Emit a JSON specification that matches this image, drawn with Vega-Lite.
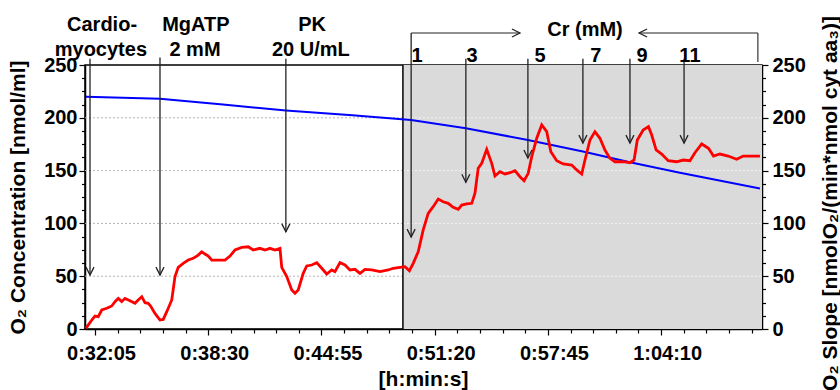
{
  "$schema": "https://vega.github.io/schema/vega-lite/v6.json",
  "width": 677,
  "height": 264,
  "autosize": {"type": "none"},
  "padding": {"left": 85, "top": 65, "right": 78, "bottom": 61},
  "background": "white",
  "config": {
    "view": {"stroke": "#000", "strokeWidth": 1.5},
    "font": "Liberation Sans",
    "axis": {
      "domainColor": "#000",
      "domainWidth": 1.5,
      "tickColor": "#000",
      "tickWidth": 1.2,
      "labelFont": "Liberation Sans",
      "labelFontSize": 20,
      "labelFontWeight": "bold",
      "labelColor": "#000",
      "titleFont": "Liberation Sans",
      "titleFontSize": 21,
      "titleFontWeight": "bold",
      "titleColor": "#000",
      "grid": false,
      "zindex": 1,
      "labelOverlap": false,
      "labelFlush": false
    }
  },
  "datasets": {
    "slope": [
      {"t": 1894, "v": 0.6}, {"t": 1914, "v": 8.5}, {"t": 1925, "v": 12.3}, {"t": 1936, "v": 11.7}, {"t": 1948, "v": 18}, {"t": 1965, "v": 19.6}, {"t": 1982, "v": 21.8}, {"t": 1993, "v": 25.9}, {"t": 2004, "v": 29}, {"t": 2016, "v": 25.9}, {"t": 2027, "v": 29}, {"t": 2044, "v": 26.8}, {"t": 2061, "v": 24.3}, {"t": 2072, "v": 27.5}, {"t": 2084, "v": 30.6}, {"t": 2095, "v": 24.9}, {"t": 2106, "v": 24.3}, {"t": 2114, "v": 21.8}, {"t": 2129, "v": 14.8}, {"t": 2146, "v": 8.5}, {"t": 2157, "v": 9.1}, {"t": 2169, "v": 16.4}, {"t": 2186, "v": 27.5}, {"t": 2197, "v": 49.6}, {"t": 2208, "v": 58.4}, {"t": 2225, "v": 62.2}, {"t": 2242, "v": 65.3}, {"t": 2259, "v": 66.9}, {"t": 2276, "v": 70}, {"t": 2288, "v": 73.2}, {"t": 2299, "v": 71}, {"t": 2310, "v": 69.1}, {"t": 2322, "v": 65.3}, {"t": 2344, "v": 65.3}, {"t": 2367, "v": 65.3}, {"t": 2384, "v": 69.1}, {"t": 2401, "v": 74.8}, {"t": 2424, "v": 77.3}, {"t": 2446, "v": 77.9}, {"t": 2463, "v": 74.8}, {"t": 2486, "v": 76.4}, {"t": 2503, "v": 74.8}, {"t": 2520, "v": 76.4}, {"t": 2537, "v": 74.8}, {"t": 2554, "v": 76.4}, {"t": 2560, "v": 58.4}, {"t": 2577, "v": 49.6}, {"t": 2594, "v": 37}, {"t": 2605, "v": 33.8}, {"t": 2616, "v": 37}, {"t": 2633, "v": 52.7}, {"t": 2645, "v": 59.7}, {"t": 2662, "v": 60.6}, {"t": 2679, "v": 62.8}, {"t": 2696, "v": 57.5}, {"t": 2713, "v": 52.1}, {"t": 2730, "v": 55.9}, {"t": 2741, "v": 54.3}, {"t": 2758, "v": 62.8}, {"t": 2775, "v": 60.6}, {"t": 2792, "v": 55.9}, {"t": 2809, "v": 56.5}, {"t": 2826, "v": 52.7}, {"t": 2843, "v": 56.5}, {"t": 2866, "v": 55.9}, {"t": 2894, "v": 54.3}, {"t": 2922, "v": 55.9}, {"t": 2939, "v": 57.5}, {"t": 2962, "v": 58.4}, {"t": 2979, "v": 59}, {"t": 2994, "v": 55.2}, {"t": 3007, "v": 62.2}, {"t": 3024, "v": 73.2}, {"t": 3041, "v": 93.8}, {"t": 3058, "v": 109.5}, {"t": 3075, "v": 115.8}, {"t": 3092, "v": 123.1}, {"t": 3109, "v": 120.5}, {"t": 3126, "v": 119}, {"t": 3143, "v": 115.2}, {"t": 3160, "v": 113.3}, {"t": 3172, "v": 117.4}, {"t": 3189, "v": 118.4}, {"t": 3206, "v": 119}, {"t": 3217, "v": 128.5}, {"t": 3228, "v": 152.2}, {"t": 3240, "v": 156.9}, {"t": 3257, "v": 170.1}, {"t": 3274, "v": 156.9}, {"t": 3285, "v": 144.9}, {"t": 3302, "v": 149}, {"t": 3319, "v": 146.8}, {"t": 3336, "v": 148}, {"t": 3353, "v": 149.9}, {"t": 3370, "v": 144.2}, {"t": 3384, "v": 140.4}, {"t": 3398, "v": 147.4}, {"t": 3410, "v": 163.2}, {"t": 3427, "v": 180.6}, {"t": 3444, "v": 193.2}, {"t": 3461, "v": 186.9}, {"t": 3475, "v": 167.9}, {"t": 3495, "v": 159.4}, {"t": 3517, "v": 156.3}, {"t": 3546, "v": 155.3}, {"t": 3563, "v": 150.6}, {"t": 3580, "v": 146.8}, {"t": 3591, "v": 160}, {"t": 3608, "v": 179}, {"t": 3625, "v": 186.9}, {"t": 3642, "v": 180.6}, {"t": 3659, "v": 169.5}, {"t": 3676, "v": 161.6}, {"t": 3693, "v": 158.4}, {"t": 3721, "v": 158.4}, {"t": 3744, "v": 157.5}, {"t": 3758, "v": 160}, {"t": 3769, "v": 179}, {"t": 3789, "v": 188.4}, {"t": 3807, "v": 191.6}, {"t": 3818, "v": 183.7}, {"t": 3833, "v": 169.5}, {"t": 3852, "v": 165.7}, {"t": 3874, "v": 159.4}, {"t": 3903, "v": 158.4}, {"t": 3925, "v": 160}, {"t": 3948, "v": 159.4}, {"t": 3965, "v": 166.9}, {"t": 3988, "v": 175.2}, {"t": 4011, "v": 171.1}, {"t": 4028, "v": 163.8}, {"t": 4050, "v": 165.7}, {"t": 4078, "v": 163.8}, {"t": 4107, "v": 160.7}, {"t": 4129, "v": 163.8}, {"t": 4186, "v": 163.8}
    ],
    "conc": [
      {"t": 1894, "v": 220}, {"t": 2146, "v": 218}, {"t": 2360, "v": 212.5}, {"t": 2574, "v": 207}, {"t": 2800, "v": 202.5}, {"t": 3000, "v": 198}, {"t": 3186, "v": 190}, {"t": 3397, "v": 179}, {"t": 3584, "v": 168}, {"t": 3744, "v": 158}, {"t": 3914, "v": 148}, {"t": 4186, "v": 133}
    ],
    "arrows": [
      {"t": 1908, "top": 256, "tip": 51},
      {"t": 2146, "top": 257, "tip": 51},
      {"t": 2574, "top": 256, "tip": 92},
      {"t": 3000, "top": 280.3, "tip": 87},
      {"t": 3186, "top": 256, "tip": 139},
      {"t": 3397, "top": 256, "tip": 162},
      {"t": 3584, "top": 256, "tip": 176},
      {"t": 3744, "top": 256, "tip": 176},
      {"t": 3928, "top": 256, "tip": 176}
    ],
    "heads": [
      {"t": 1908, "v": 51, "dir": "down"},
      {"t": 2146, "v": 51, "dir": "down"},
      {"t": 2574, "v": 92, "dir": "down"},
      {"t": 3000, "v": 87, "dir": "down"},
      {"t": 3186, "v": 139, "dir": "down"},
      {"t": 3397, "v": 162, "dir": "down"},
      {"t": 3584, "v": 176, "dir": "down"},
      {"t": 3744, "v": 176, "dir": "down"},
      {"t": 3928, "v": 176, "dir": "down"},
      {"t": 3370, "v": 280.3, "dir": "right"},
      {"t": 3775, "v": 280.3, "dir": "left"}
    ],
    "bracket": [
      {"t": 3000, "t2": 3370, "v": 280.3, "v2": 280.3},
      {"t": 3775, "t2": 4179, "v": 280.3, "v2": 280.3},
      {"t": 4179, "t2": 4179, "v": 280.3, "v2": 252.8}
    ],
    "labels": [
      {"t": 1949, "v": 288, "label": "Cardio-"},
      {"t": 1945, "v": 264.5, "label": "myocytes"},
      {"t": 2268, "v": 288, "label": "MgATP"},
      {"t": 2265, "v": 264.5, "label": "2 mM"},
      {"t": 2663, "v": 288, "label": "PK"},
      {"t": 2659, "v": 264.5, "label": "20 U/mL"},
      {"t": 3591, "v": 283, "label": "Cr (mM)"},
      {"t": 3020, "v": 258.5, "label": "1"},
      {"t": 3207, "v": 258.5, "label": "3"},
      {"t": 3438, "v": 258.5, "label": "5"},
      {"t": 3628, "v": 258.5, "label": "7"},
      {"t": 3785, "v": 258.5, "label": "9"},
      {"t": 3948, "v": 258.5, "label": "11"}
    ],
    "grid": [{"v": 50}, {"v": 100}, {"v": 150}, {"v": 200}],
    "region": [{"t0": 2972, "t1": 4193}]
  },
  "resolve": {"scale": {"y": "shared", "x": "shared"}, "axis": {"y": "independent", "x": "independent"}},
  "layer": [
    {
      "data": {"name": "region"},
      "mark": {"type": "rect", "fill": "#dadada"},
      "encoding": {
        "x": {
          "field": "t0", "type": "quantitative",
          "scale": {"domain": [1891, 4193], "nice": false, "zero": false},
          "axis": {
            "title": "[h:min:s]",
            "values": [1925, 2310, 2695, 3080, 3465, 3850],
            "labelExpr": "utcFormat(datum.value * 1000, '%-H:%M:%S')",
            "tickSize": 6,
            "labelOverlap": false,
            "labelFlush": false,
            "labelPadding": 8,
            "labelOffset": 6,
            "titleX": 338,
            "titleY": 50,
            "titleAlign": "center",
            "titleBaseline": "middle"
          }
        },
        "x2": {"field": "t1"},
        "y": {
          "datum": 0, "type": "quantitative",
          "scale": {"domain": [0, 250], "nice": false, "zero": true},
          "axis": {
            "orient": "left",
            "title": "O₂ Concentration [nmol/ml]",
            "values": [0, 12.5, 25, 37.5, 50, 62.5, 75, 87.5, 100, 112.5, 125, 137.5, 150, 162.5, 175, 187.5, 200, 212.5, 225, 237.5, 250],
            "labelExpr": "datum.value % 50 === 0 ? datum.label : ''",
            "tickSize": {"condition": {"test": "datum.value % 50 === 0", "value": 6}, "value": 3.5},
            "labelOverlap": false,
            "labelPadding": 2,
            "titleX": -67,
            "titleY": 132,
            "titleAngle": 270,
            "titleAlign": "center",
            "titleBaseline": "middle"
          }
        },
        "y2": {"datum": 250}
      }
    },
    {
      "data": {"name": "grid"},
      "mark": {"type": "rule", "color": "#b5b5b5", "strokeDash": [2, 2], "strokeWidth": 1},
      "encoding": {
        "x": {"datum": 1891, "type": "quantitative", "axis": null},
        "x2": {"datum": 2972},
        "y": {"field": "v", "type": "quantitative", "axis": null}
      }
    },
    {
      "data": {"name": "grid"},
      "mark": {"type": "rule", "color": "#f4f4f4", "strokeDash": [2, 2], "strokeWidth": 1},
      "encoding": {
        "x": {"datum": 2972, "type": "quantitative", "axis": null},
        "x2": {"datum": 4193},
        "y": {"field": "v", "type": "quantitative", "axis": null}
      }
    },
    {
      "data": {"name": "region"},
      "mark": {"type": "rule", "color": "#000", "strokeWidth": 1.5},
      "encoding": {
        "x": {"field": "t0", "type": "quantitative", "axis": null},
        "y": {"datum": 0, "type": "quantitative", "axis": null},
        "y2": {"datum": 250}
      }
    },
    {
      "data": {"name": "conc"},
      "mark": {"type": "line", "color": "#0000ff", "strokeWidth": 2},
      "encoding": {
        "x": {"field": "t", "type": "quantitative", "axis": null},
        "y": {"field": "v", "type": "quantitative", "axis": null}
      }
    },
    {
      "data": {"name": "slope"},
      "mark": {"type": "line", "color": "#ff0000", "strokeWidth": 2.8},
      "encoding": {
        "x": {"field": "t", "type": "quantitative", "axis": null},
        "y": {
          "field": "v", "type": "quantitative",
          "axis": {
            "orient": "right",
            "title": "O₂ Slope [nmolO₂/(min*nmol cyt aa₃)]",
            "values": [0, 12.5, 25, 37.5, 50, 62.5, 75, 87.5, 100, 112.5, 125, 137.5, 150, 162.5, 175, 187.5, 200, 212.5, 225, 237.5, 250],
            "labelExpr": "datum.value % 50 === 0 ? datum.label : ''",
            "tickSize": {"condition": {"test": "datum.value % 50 === 0", "value": 6}, "value": 3.5},
            "labelOverlap": false,
            "labelPadding": 4,
            "titleX": 68,
            "titleY": 138,
            "titleAngle": 270,
            "titleAlign": "center",
            "titleBaseline": "middle"
          }
        }
      }
    },
    {
      "data": {"name": "arrows"},
      "mark": {"type": "rule", "color": "#222", "strokeWidth": 1.3},
      "encoding": {
        "x": {
          "field": "t", "type": "quantitative",
          "axis": {
            "orient": "bottom",
            "title": null,
            "values": [2002, 2079, 2156, 2233, 2387, 2464, 2541, 2618, 2772, 2849, 2926, 3003, 3157, 3234, 3311, 3388, 3542, 3619, 3696, 3773, 3927, 4004, 4081, 4158],
            "labels": false,
            "domain": false,
            "tickSize": 4
          }
        },
        "y": {"field": "top", "type": "quantitative", "axis": null},
        "y2": {"field": "tip"}
      }
    },
    {
      "data": {"name": "bracket"},
      "mark": {"type": "rule", "color": "#222", "strokeWidth": 1.1},
      "encoding": {
        "x": {"field": "t", "type": "quantitative", "axis": null},
        "x2": {"field": "t2"},
        "y": {"field": "v", "type": "quantitative", "axis": null},
        "y2": {"field": "v2"}
      }
    },
    {
      "data": {"name": "heads"},
      "mark": {"type": "point", "filled": false, "stroke": "#222", "strokeWidth": 1.3, "size": 64, "opacity": 1},
      "encoding": {
        "x": {"field": "t", "type": "quantitative", "axis": null},
        "y": {"field": "v", "type": "quantitative", "axis": null},
        "shape": {
          "field": "dir", "type": "nominal", "legend": null,
          "scale": {"domain": ["down", "right", "left"], "range": ["M-1,-2L0,0L1,-2", "M-2,-1L0,0L-2,1", "M2,-1L0,0L2,1"]}
        }
      }
    },
    {
      "data": {"name": "labels"},
      "mark": {"type": "text", "font": "Liberation Sans", "fontSize": 20, "fontWeight": "bold", "color": "#000", "align": "center", "baseline": "middle"},
      "encoding": {
        "x": {"field": "t", "type": "quantitative", "axis": null},
        "y": {"field": "v", "type": "quantitative", "axis": null},
        "text": {"field": "label"}
      }
    }
  ]
}
